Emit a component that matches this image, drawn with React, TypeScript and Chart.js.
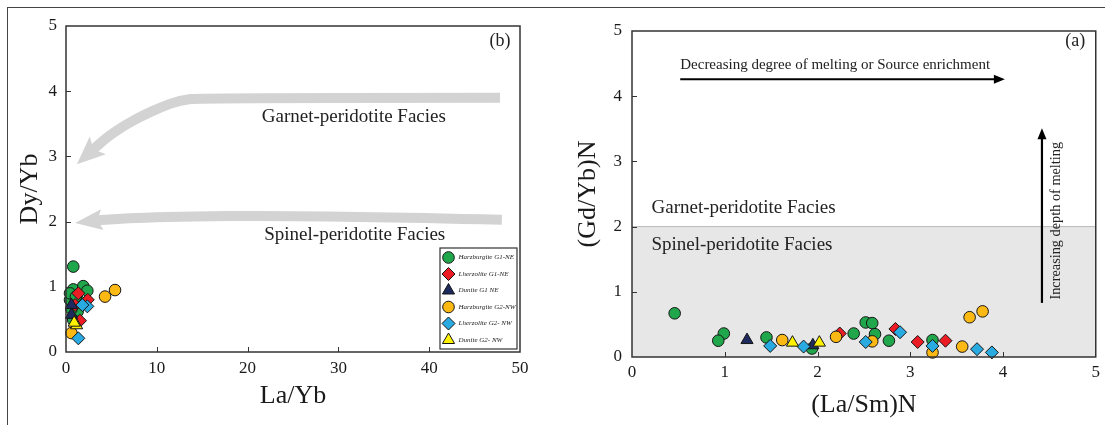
import React, { useEffect, useRef } from 'react';
import { Chart, registerables } from 'chart.js';
import { drawPoint } from 'chart.js/helpers';
Chart.register(...registerables);

const SERIF = '"Liberation Serif", "DejaVu Serif", serif';

// Series definitions
const SERIES = ['Harzburgite G1-NE', 'Lherzolite G1-NE', 'Dunite G1 NE', 'Harzburgite G2-NW', 'Lherzolite G2- NW', 'Dunite G2- NW'];
const COLORS = ['#20a64b', '#ec1c24', '#1d2a5e', '#fdb913', '#29abe2', '#fff200'];
const STYLES = ['circle', 'rectRot', 'triangle', 'circle', 'rectRot', 'triangle'];
const RADII = [5.8, 6.5, 7, 5.8, 6.5, 7];

// Panel (b): La/Yb vs Dy/Yb
const B_HARZ_G1: number[][] = [[0.8, 1.31], [0.8, 0.96], [1.9, 1.01], [2.35, 0.94], [1.54, 0.77], [0.44, 0.8], [1.28, 0.62], [0.8, 0.49], [0.44, 0.9], [1.1, 0.85], [0.6, 0.66]];
const B_LHERZ_G1: number[][] = [[1.36, 0.9], [2.4, 0.8], [1.54, 0.48], [1.0, 0.72]];
const B_DUN_G1: number[][] = [[0.6, 0.72], [0.6, 0.57]];
const B_HARZ_G2: number[][] = [[5.4, 0.95], [4.3, 0.85], [0.6, 0.29]];
const B_LHERZ_G2: number[][] = [[2.35, 0.7], [1.36, 0.21], [1.8, 0.72]];
const B_DUN_G2: number[][] = [[1.17, 0.41], [0.9, 0.45]];

// Panel (a): (La/Sm)N vs (Gd/Yb)N
const A_HARZ_G1: number[][] = [[0.46, 0.67], [0.99, 0.36], [0.93, 0.25], [1.45, 0.3], [1.94, 0.13], [2.39, 0.36], [2.52, 0.53], [2.59, 0.52], [2.62, 0.35], [2.77, 0.25], [3.24, 0.26]];
const A_LHERZ_G1: number[][] = [[2.24, 0.36], [2.84, 0.43], [3.08, 0.23], [3.38, 0.25]];
const A_DUN_G1: number[][] = [[1.24, 0.26], [1.95, 0.18]];
const A_HARZ_G2: number[][] = [[1.62, 0.26], [2.2, 0.31], [2.59, 0.24], [3.24, 0.07], [3.56, 0.16], [3.64, 0.61], [3.78, 0.7]];
const A_LHERZ_G2: number[][] = [[1.49, 0.17], [1.85, 0.16], [2.52, 0.23], [2.89, 0.38], [3.24, 0.17], [3.72, 0.12], [3.88, 0.07]];
const A_DUN_G2: number[][] = [[1.73, 0.22], [2.02, 0.22]];

// Axis settings
const B_X = { min: 0, max: 50, step: 10, title: 'La/Yb' };
const B_Y = { min: 0, max: 5, step: 1, title: 'Dy/Yb' };
const A_X = { min: 0, max: 5, step: 1, title: '(La/Sm)N' };
const A_Y = { min: 0, max: 5, step: 1, title: '(Gd/Yb)N' };

// Facies boundary (panel a)
const A_SPINEL_FIELD: number[][] = [[0, 2], [5, 2]];

// Annotations in data units
const B_NOTES = [
  { text: 'Garnet-peridotite Facies', x: 31.7, y: 3.6, align: 'center', size: 19 },
  { text: 'Spinel-peridotite Facies', x: 31.8, y: 1.79, align: 'center', size: 19 },
  { text: '(b)', x: 47.8, y: 4.77, align: 'center', size: 18 },
];
const B_GREY_ARROWS = [
  { shaft: [[47.8, 3.9], [15, 3.9], [12.5, 3.86], [10.4, 3.75], [8.5, 3.63], [6.5, 3.48], [4.6, 3.3], [3.5, 3.17]], tip: [1.2, 2.88], half: 12, notch: 6 },
  { shaft: [[48, 2.03], [26, 2.1], [10, 2.07], [4.0, 2.03]], tip: [1.0, 1.98], half: 10.5, notch: 5 },
];
const A_NOTES = [
  { text: 'Garnet-peridotite Facies', x: 0.21, y: 2.29, align: 'left', size: 19 },
  { text: 'Spinel-peridotite Facies', x: 0.21, y: 1.72, align: 'left', size: 19 },
  { text: '(a)', x: 4.78, y: 4.85, align: 'center', size: 18 },
];
const A_ARROW_H = { from: [0.52, 4.26], to: [4.02, 4.26], text: 'Decreasing degree of melting or Source enrichment', tx: 0.52, ty: 4.47 };
const A_ARROW_V = { from: [4.42, 0.83], to: [4.42, 3.51], text: 'Increasing depth of melting', tx: 4.57, ty: 2.09 };

function toPts(arr: number[][]) {
  return arr.map(([x, y]) => ({ x, y }));
}

function seriesDatasets(groups: number[][][]) {
  return groups.map((g, i) => ({
    type: 'scatter' as const,
    label: SERIES[i],
    data: toPts(g),
    pointStyle: STYLES[i],
    pointRadius: RADII[i],
    pointBackgroundColor: COLORS[i],
    pointBorderColor: '#151515',
    pointBorderWidth: 1,
    backgroundColor: COLORS[i],
    borderColor: '#151515',
    showLine: false,
    clip: false,
    order: 6 - i,
  }));
}

function headAt(ctx: CanvasRenderingContext2D, fx: number, fy: number, tx: number, ty: number, half: number, notch: number, color: string) {
  const ang = Math.atan2(ty - fy, tx - fx);
  const len = Math.hypot(tx - fx, ty - fy);
  ctx.save();
  ctx.translate(tx, ty);
  ctx.rotate(ang);
  ctx.beginPath();
  ctx.moveTo(0, 0);
  ctx.lineTo(-len, -half);
  ctx.lineTo(-len + notch, 0);
  ctx.lineTo(-len, half);
  ctx.closePath();
  ctx.fillStyle = color;
  ctx.fill();
  ctx.restore();
}

const framePlugin = {
  id: 'frame',
  afterDraw(chart: any) {
    const { ctx, chartArea: a, scales } = chart;
    ctx.save();
    ctx.strokeStyle = '#333';
    ctx.beginPath();
    scales.x.ticks.forEach((t: any) => {
      if (t.value <= scales.x.min || t.value >= scales.x.max) return;
      const px = Math.round(scales.x.getPixelForValue(t.value)) + 0.5;
      ctx.moveTo(px, a.bottom);
      ctx.lineTo(px, a.bottom - 5);
    });
    scales.y.ticks.forEach((t: any) => {
      if (t.value <= scales.y.min || t.value >= scales.y.max) return;
      const py = Math.round(scales.y.getPixelForValue(t.value)) + 0.5;
      ctx.moveTo(a.left, py);
      ctx.lineTo(a.left + 5, py);
    });
    ctx.lineWidth = 1;
    ctx.stroke();
    ctx.lineWidth = 1.5;
    ctx.strokeRect(a.left, a.top, a.right - a.left, a.bottom - a.top);
    ctx.restore();
  },
};

const leftAnnot = {
  id: 'leftAnnot',
  beforeDatasetsDraw(chart: any) {
    const { ctx, scales } = chart;
    const X = (v: number) => scales.x.getPixelForValue(v);
    const Y = (v: number) => scales.y.getPixelForValue(v);
    ctx.save();
    B_GREY_ARROWS.forEach((ar) => {
      const p = ar.shaft.map(([x, y]) => [X(x), Y(y)]);
      ctx.beginPath();
      ctx.moveTo(p[0][0], p[0][1]);
      for (let i = 1; i < p.length - 1; i++) {
        const mx = (p[i][0] + p[i + 1][0]) / 2;
        const my = (p[i][1] + p[i + 1][1]) / 2;
        ctx.quadraticCurveTo(p[i][0], p[i][1], mx, my);
      }
      const last = p[p.length - 1];
      const tip = [X(ar.tip[0]), Y(ar.tip[1])];
      const ang = Math.atan2(tip[1] - last[1], tip[0] - last[0]);
      ctx.lineTo(last[0] + Math.cos(ang) * ar.notch, last[1] + Math.sin(ang) * ar.notch);
      ctx.strokeStyle = '#d3d3d3';
      ctx.lineWidth = 10;
      ctx.lineCap = 'butt';
      ctx.lineJoin = 'round';
      ctx.stroke();
      headAt(ctx, last[0], last[1], tip[0], tip[1], ar.half, ar.notch, '#d3d3d3');
    });
    ctx.fillStyle = '#222';
    ctx.textBaseline = 'middle';
    B_NOTES.forEach((n) => {
      ctx.font = `${n.size}px ${SERIF}`;
      ctx.textAlign = n.align;
      ctx.fillText(n.text, X(n.x), Y(n.y));
    });
    ctx.restore();
  },
  afterDatasetsDraw(chart: any) {
    const { ctx, chartArea: a } = chart;
    const w = 77, h = 101;
    const left = a.right - 3 - w, top = a.bottom - 3 - h;
    ctx.save();
    ctx.fillStyle = '#fff';
    ctx.fillRect(left, top, w, h);
    ctx.strokeStyle = '#333';
    ctx.lineWidth = 1.2;
    ctx.strokeRect(left, top, w, h);
    SERIES.forEach((name, i) => {
      const cy = top + 9.5 + i * 16.5;
      const cx = left + 8.5;
      ctx.fillStyle = COLORS[i];
      ctx.strokeStyle = '#151515';
      ctx.lineWidth = 1;
      drawPoint(ctx, { pointStyle: STYLES[i], radius: RADII[i], rotation: 0, borderWidth: 1 } as any, cx, cy);
      ctx.fillStyle = '#222';
      ctx.font = `italic 7px ${SERIF}`;
      ctx.textAlign = 'left';
      ctx.textBaseline = 'middle';
      ctx.fillText(name, left + 18.5, cy);
    });
    ctx.restore();
  },
};

const rightAnnot = {
  id: 'rightAnnot',
  afterDatasetsDraw(chart: any) {
    const { ctx, scales } = chart;
    const X = (v: number) => scales.x.getPixelForValue(v);
    const Y = (v: number) => scales.y.getPixelForValue(v);
    ctx.save();
    ctx.fillStyle = '#222';
    ctx.textBaseline = 'middle';
    A_NOTES.forEach((n) => {
      ctx.font = `${n.size}px ${SERIF}`;
      ctx.textAlign = n.align;
      ctx.fillText(n.text, X(n.x), Y(n.y));
    });
    const drawArrow = (ar: any, lw: number) => {
      const fx = X(ar.from[0]), fy = Y(ar.from[1]);
      const tx = X(ar.to[0]), ty = Y(ar.to[1]);
      const ang = Math.atan2(ty - fy, tx - fx);
      const hl = 11;
      ctx.beginPath();
      ctx.moveTo(fx, fy);
      ctx.lineTo(tx - Math.cos(ang) * (hl - 2), ty - Math.sin(ang) * (hl - 2));
      ctx.strokeStyle = '#000';
      ctx.lineWidth = lw;
      ctx.stroke();
      headAt(ctx, tx - Math.cos(ang) * hl, ty - Math.sin(ang) * hl, tx, ty, 4.5, 0, '#000');
    };
    drawArrow(A_ARROW_H, 2);
    drawArrow(A_ARROW_V, 2.2);
    ctx.fillStyle = '#222';
    ctx.font = `15px ${SERIF}`;
    ctx.textAlign = 'left';
    ctx.fillText(A_ARROW_H.text, X(A_ARROW_H.tx), Y(A_ARROW_H.ty));
    ctx.save();
    ctx.translate(X(A_ARROW_V.tx), Y(A_ARROW_V.ty));
    ctx.rotate(-Math.PI / 2);
    ctx.textAlign = 'center';
    ctx.font = `14.3px ${SERIF}`;
    ctx.fillText(A_ARROW_V.text, 0, 0);
    ctx.restore();
    ctx.restore();
  },
};

function axis(ax: any, pos: 'x' | 'y', fit: number, tickPad: number, titlePad: any) {
  return {
    type: 'linear' as const,
    position: pos === 'x' ? 'bottom' : 'left',
    min: ax.min,
    max: ax.max,
    ticks: { stepSize: ax.step, padding: tickPad, color: '#1a1a1a', font: { family: SERIF, size: 17 } },
    grid: { display: false, drawTicks: false },
    border: { display: false },
    title: { display: true, text: ax.title, color: '#1a1a1a', font: { family: SERIF, size: 26 }, padding: titlePad },
    afterFit: (s: any) => {
      if (pos === 'x') s.height = fit;
      else s.width = fit;
    },
  };
}

function baseOptions(padding: any, xs: any, ys: any) {
  return {
    animation: false as const,
    responsive: false,
    maintainAspectRatio: false,
    layout: { padding },
    plugins: { legend: { display: false }, tooltip: { enabled: false } },
    scales: { x: xs, y: ys },
  };
}

export default function App() {
  const leftRef = useRef<HTMLCanvasElement>(null);
  const rightRef = useRef<HTMLCanvasElement>(null);

  useEffect(() => {
    const left = new Chart(leftRef.current as HTMLCanvasElement, {
      type: 'scatter',
      data: {
        datasets: seriesDatasets([B_HARZ_G1, B_LHERZ_G1, B_DUN_G1, B_HARZ_G2, B_LHERZ_G2, B_DUN_G2]) as any,
      },
      options: baseOptions(
        { top: 26, right: 40, bottom: 0, left: 0 },
        axis(B_X, 'x', 73, 6, { top: 0, bottom: 13.4 }),
        axis(B_Y, 'y', 66, 9, { top: 14.4, bottom: 0 })
      ) as any,
      plugins: [leftAnnot, framePlugin],
    });

    const right = new Chart(rightRef.current as HTMLCanvasElement, {
      type: 'scatter',
      data: {
        datasets: [
          ...seriesDatasets([A_HARZ_G1, A_LHERZ_G1, A_DUN_G1, A_HARZ_G2, A_LHERZ_G2, A_DUN_G2]),
          {
            type: 'line' as const,
            label: 'Spinel field',
            data: toPts(A_SPINEL_FIELD),
            showLine: true,
            fill: 'origin',
            backgroundColor: '#e7e7e7',
            borderColor: '#b9b9b9',
            borderWidth: 1,
            pointRadius: 0,
            order: 100,
          },
        ] as any,
      },
      options: baseOptions(
        { top: 31, right: 8, bottom: 0, left: 0 },
        axis(A_X, 'x', 68, 5, { top: 0, bottom: 4.4 }),
        axis(A_Y, 'y', 72, 10, { top: 12.4, bottom: 0 })
      ) as any,
      plugins: [rightAnnot, framePlugin],
    });

    return () => {
      left.destroy();
      right.destroy();
    };
  }, []);

  return (
    <div style={{ position: 'absolute', left: 0, top: 0, width: 1105, height: 425, background: '#fff', overflow: 'hidden' }}>
      <div
        style={{
          position: 'absolute',
          left: 7,
          top: 7,
          width: 1110,
          height: 430,
          borderTop: '1.5px solid #444',
          borderLeft: '1.5px solid #444',
        }}
      />
      <canvas ref={leftRef} width={560} height={425} style={{ position: 'absolute', left: 0, top: 0 }} />
      <canvas ref={rightRef} width={545} height={425} style={{ position: 'absolute', left: 560, top: 0 }} />
    </div>
  );
}
